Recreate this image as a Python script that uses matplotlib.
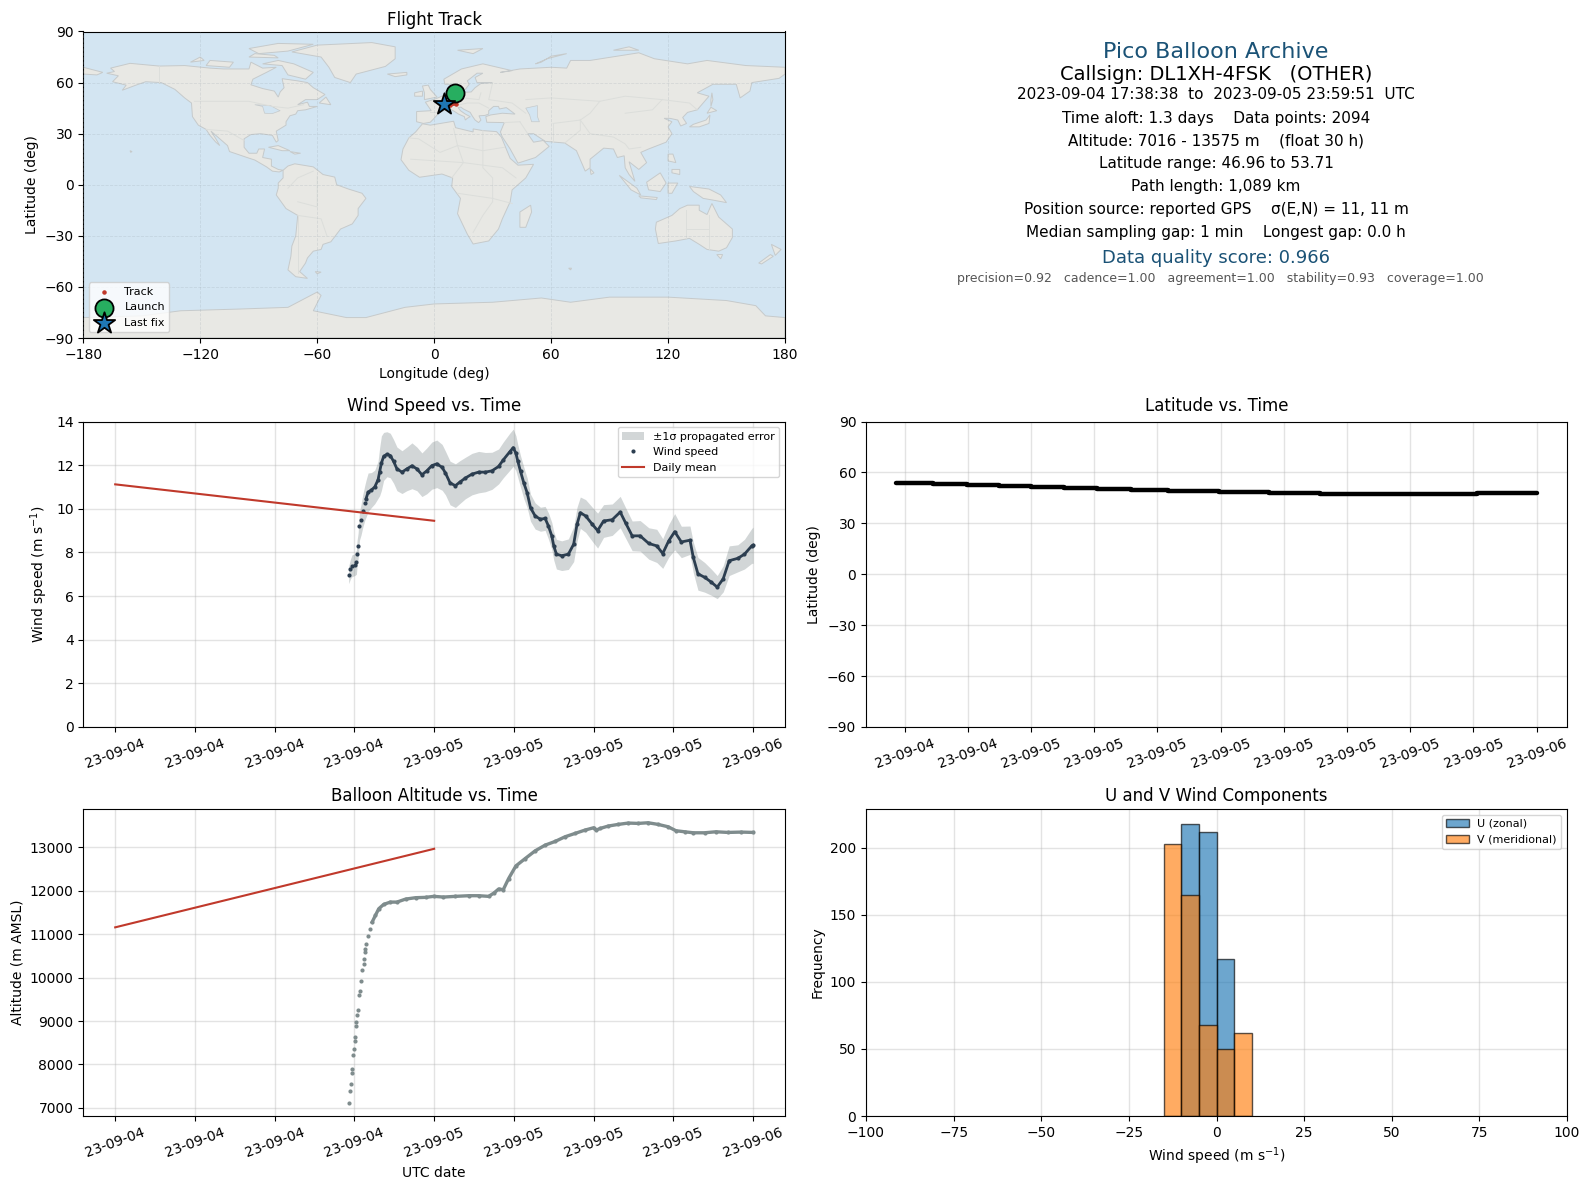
import pandas as pd
import matplotlib
matplotlib.use("Agg")
import matplotlib.pyplot as plt
import matplotlib.dates as mdates
from matplotlib.patches import Polygon

# data, hours counted from 2023-09-04 00:00 UTC
wind_hours = [17.57, 17.70, 17.82, 18.03, 18.15, 18.20, 18.28, 18.38, 18.50, 18.63, 18.78, 18.88, 19.03, 19.28, 19.53,
              19.78, 19.90, 20.03, 20.20, 20.45, 20.70, 20.95, 21.20, 21.58, 21.95, 22.33, 22.70, 23.08, 23.45, 23.83,
              24.20, 24.60, 24.85, 25.20, 25.60, 25.95, 26.35, 26.85, 27.35, 27.85, 28.35, 28.85, 29.20, 29.70, 29.95,
              30.15, 30.30, 30.50, 30.75, 31.00, 31.25, 31.60, 32.00, 32.35, 32.60, 32.85, 33.00, 33.20, 33.60, 34.10,
              34.50, 34.75, 35.00, 35.40, 35.90, 36.30, 36.75, 37.40, 38.00, 38.40, 38.90, 39.50, 40.15, 40.75, 41.20,
              41.65, 42.10, 42.60, 43.25, 43.50, 43.85, 44.35, 44.85, 45.30, 45.75, 46.20, 46.85, 47.35, 47.90, 48.00]
wind_speed = [6.97, 7.24, 7.39, 7.44, 7.55, 7.95, 8.29, 9.21, 9.50, 9.90, 10.27, 10.47, 10.76, 10.86, 11.00,
              11.33, 11.70, 12.09, 12.40, 12.50, 12.44, 12.17, 11.83, 11.68, 11.83, 11.97, 11.83, 11.56, 11.74, 11.98,
              12.06, 11.90, 11.64, 11.18, 11.06, 11.23, 11.41, 11.59, 11.68, 11.68, 11.74, 11.94, 12.24, 12.62, 12.80,
              12.55, 12.17, 11.71, 11.18, 10.73, 10.05, 9.67, 9.52, 9.56, 9.21, 8.76, 8.30, 7.92, 7.85, 7.92,
              8.38, 9.29, 9.82, 9.67, 9.29, 9.00, 9.44, 9.50, 9.85, 9.36, 8.76, 8.76, 8.41, 8.30, 7.95,
              8.53, 8.95, 8.48, 8.56, 7.77, 7.02, 6.86, 6.64, 6.41, 6.79, 7.62, 7.73, 7.92, 8.30, 8.33]
wind_sigma = [0.40, 0.45, 0.50, 0.50, 0.55, 0.60, 0.60, 0.65, 0.70, 0.75, 0.80, 0.85, 0.88, 0.80, 0.77,
              0.85, 1.10, 1.25, 1.10, 1.03, 1.02, 1.00, 1.00, 0.98, 1.00, 1.05, 1.00, 1.00, 1.05, 1.08,
              1.09, 1.05, 1.00, 1.00, 1.00, 0.98, 0.95, 0.95, 0.95, 0.90, 0.85, 0.80, 0.82, 0.85, 0.85,
              0.80, 0.75, 0.72, 0.72, 0.68, 0.62, 0.60, 0.55, 0.55, 0.60, 0.62, 0.65, 0.68, 0.68, 0.70,
              0.80, 0.78, 0.72, 0.75, 0.78, 0.80, 0.75, 0.72, 0.72, 0.70, 0.68, 0.70, 0.72, 0.76, 0.68,
              0.75, 0.83, 0.72, 0.65, 0.70, 0.75, 0.68, 0.60, 0.53, 0.60, 0.68, 0.62, 0.68, 0.80, 0.83]

alt_hours = [17.60, 17.67, 17.75, 17.82, 17.83, 17.90, 17.97, 18.05, 18.06, 18.12, 18.13, 18.20, 18.28, 18.35, 18.40,
             18.48, 18.58, 18.70, 18.75, 18.78, 18.83, 18.90, 19.03, 19.20, 19.33, 19.58, 19.83, 20.20, 20.70, 21.20,
             21.85, 22.60, 23.35, 23.97, 24.70, 25.60, 26.60, 27.35, 28.10, 28.50, 28.85, 29.20, 29.60, 30.15, 30.85,
             31.60, 32.35, 33.10, 33.85, 34.60, 35.35, 36.00, 36.20, 36.50, 37.10, 37.85, 38.60, 39.35, 40.10, 40.85,
             41.60, 42.20, 42.85, 43.50, 44.35, 45.20, 46.10, 47.10, 48.00]
altitude = [7123, 7378, 7540, 7794, 7887, 8210, 8349, 8542, 8642, 8881, 8974, 9136, 9252, 9598, 9691,
            9915, 10177, 10316, 10431, 10586, 10663, 10778, 10971, 11125, 11279, 11434, 11588, 11688, 11742, 11742,
            11811, 11843, 11851, 11874, 11858, 11874, 11889, 11889, 11874, 11951, 12043, 12028, 12282, 12575, 12745,
            12923, 13054, 13139, 13247, 13324, 13401, 13455, 13401, 13440, 13494, 13532, 13563, 13555, 13570, 13532,
            13478, 13386, 13362, 13339, 13339, 13362, 13347, 13355, 13347]

# latitude comes in visible steps
lat_hours = [17.61, 19.36, 20.96, 22.50, 23.98, 25.58, 27.12, 28.76, 30.50, 32.90, 35.29, 37.73, 45.15, 48.00]
latitude = [53.7, 53.1, 52.5, 51.9, 51.3, 50.7, 50.1, 49.6, 49.0, 48.4, 47.8, 47.1, 47.6, 47.6]

daily_hours = [0, 24]
daily_wind = [11.12, 9.45]
daily_alt = [11160, 12970]

track_lon = [10.5, 11.5, 11.0, 8.0, 5.3]
track_lat = [53.7, 50.0, 47.5, 47.0, 47.5]

hist_edges = [-15, -10, -5, 0, 5, 10]
u_counts = [0, 218, 212, 117, 0]
v_counts = [203, 165, 68, 50, 62]

info_lines = ["2023-09-04 17:38:38  to  2023-09-05 23:59:51  UTC",
              "Time aloft: 1.3 days    Data points: 2094",
              "Altitude: 7016 - 13575 m    (float 30 h)",
              "Latitude range: 46.96 to 53.71",
              "Path length: 1,089 km",
              "Position source: reported GPS    \u03c3(E,N) = 11, 11 m",
              "Median sampling gap: 1 min    Longest gap: 0.0 h"]

# rough coastlines
land = [
    [(-168, 65.5), (-164, 66.5), (-166, 68.5), (-156, 71.3), (-141, 69.7), (-128, 70), (-115, 68.5), (-108, 68), (-95, 68),
     (-94, 72), (-88, 68.5), (-81, 69), (-86, 66), (-93, 62), (-94, 58.7), (-88, 56.5), (-82, 55), (-80, 51.5), (-79, 54.5),
     (-77, 57), (-78, 62.3), (-70, 61), (-65, 60), (-62, 57), (-56, 53), (-60, 50), (-66, 50), (-70, 47), (-65, 48.5),
     (-64, 46), (-60, 46), (-66, 44), (-70, 43.5), (-71, 41.5), (-74, 40.5), (-76, 37), (-76, 35), (-81, 31.5), (-80, 26),
     (-81, 25), (-83, 29), (-89, 30), (-94, 29.5), (-97.5, 27), (-97.5, 22), (-95, 18.5), (-91, 18.5), (-90, 21), (-87, 21),
     (-88, 16), (-83.5, 15), (-83.5, 11), (-80, 9), (-77.5, 8.5), (-79.5, 7.5), (-83, 8), (-86, 10.5), (-92, 14.5), (-96, 16),
     (-105, 19.5), (-106, 23), (-112, 29), (-114.5, 31.5), (-112, 27), (-110, 23), (-112, 25), (-115, 29), (-117, 32.5),
     (-121, 35), (-124, 40), (-124.5, 48), (-128, 51), (-133, 56), (-140, 60), (-148, 60.5), (-153, 58.5), (-160, 55.5),
     (-158, 58.5), (-165, 60.5), (-162, 64)],
    [(-77.5, 8.5), (-75, 11), (-71.5, 12.3), (-62, 10.5), (-57, 6), (-51, 4.5), (-50, 0), (-44, -2.5), (-37, -5), (-35, -8),
     (-39, -14), (-39, -18), (-42, -23), (-48, -26), (-53, -33.5), (-57, -35), (-58, -38), (-62, -39), (-65, -43), (-66, -46),
     (-69, -51), (-65, -55), (-71, -54), (-75, -50), (-73.5, -42), (-73, -36), (-71, -30), (-70, -18), (-76, -14), (-81, -6),
     (-80, -2), (-80, 1), (-77.5, 4)],
    [(-6, 35.8), (-2, 35), (10, 37.3), (11, 33.5), (20, 31), (20, 32.8), (25, 31.8), (32, 31.2), (34.5, 28), (37, 21), (39, 15.5),
     (43, 11.5), (51, 12), (47, 4), (40, -3), (39, -10), (35, -20), (33, -26), (28, -33), (20, -34.8), (17, -29), (12, -17),
     (13.5, -8), (9, -1), (9.5, 4), (4, 6.3), (-7.5, 4.4), (-13, 8.5), (-17, 14.7), (-16, 21), (-13, 27.5), (-9.5, 31)],
    [(-5.5, 36), (-9, 37), (-9, 43), (-1.5, 43.5), (-4.5, 48.5), (1.5, 50.8), (8, 54), (8.5, 57), (11, 56), (11, 54), (19, 54.5),
     (21, 57), (24, 59.5), (30, 60), (22, 60), (21, 63), (25, 65.5), (22, 65.5), (17, 61), (18, 59), (16, 56), (13, 55.5), (11, 59),
     (5.5, 59), (5, 62), (14, 68), (25, 71), (40, 67), (34, 66), (44, 68), (60, 69), (68, 68.5), (70, 73), (80, 73), (105, 77.5),
     (113, 74), (130, 71), (140, 73), (160, 70), (180, 69), (180, 65), (177, 62.5), (163, 60), (162, 55), (157, 51), (155, 59),
     (143, 59), (135, 54), (141, 52), (135, 44), (130, 42.5), (127.5, 39.5), (129.5, 36), (126.5, 34.5), (125, 38), (121, 39),
     (118, 39), (122, 37), (120, 34), (122, 30), (119, 25), (110, 21), (106, 19), (109, 13), (105, 9), (100, 13.5), (103, 2),
     (100, 6), (98, 10), (97.5, 17), (94, 16), (92, 21), (87, 21.5), (80, 15), (80, 10), (77.5, 8), (73, 20), (67, 24.5), (57, 25.5),
     (51, 30), (48, 30), (51, 25), (56, 26), (59, 22.5), (52, 16), (43, 12.7), (39, 21), (35, 28), (34, 31), (36, 36.5), (27, 36.7),
     (26.5, 40), (29, 41), (35, 42), (41.5, 41.5), (38, 44.5), (37, 45.3), (33.5, 44.5), (33, 46), (30.5, 46), (28, 43.5), (28, 41.5),
     (26, 40.7), (23, 40.5), (24, 38), (22.8, 36.5), (21, 38), (19.5, 40.5), (18.5, 42.5), (15, 44.5), (13.7, 45.6), (12.3, 45.3),
     (13.5, 43.5), (16, 41.5), (18.5, 40), (17, 39), (16, 38), (15.5, 40), (12.5, 41.5), (10.5, 43), (8.5, 44.3), (3, 43), (0, 39),
     (-2, 36.7)],
    [(-180, 69), (-170, 66), (-173, 64.5), (-180, 65)],
    [(-73, 78), (-60, 82), (-32, 83.5), (-20, 81), (-20, 74), (-25, 69.5), (-40, 65), (-43, 60), (-51, 63), (-54, 69), (-58, 75)],
    [(-80, 73), (-72, 71), (-62, 66), (-66, 62), (-75, 64.5), (-78, 70), (-88, 71)],
    [(-117, 70), (-105, 69), (-103, 72), (-115, 73)],
    [(-90, 77), (-75, 78.5), (-62, 82.5), (-80, 83), (-95, 80)],
    [(-125, 72), (-118, 73), (-120, 75)],
    [(-95, 75), (-80, 74.5), (-82, 76), (-92, 77)],
    [(-24, 65), (-14, 66), (-14, 64.5), (-20, 63.5)],
    [(-5, 50), (1.5, 51.5), (-2, 56), (-3, 58.5), (-6, 58), (-5, 54)],
    [(-10, 52), (-6, 52), (-6, 55), (-10, 54)],
    [(12, 79), (25, 80), (20, 77)],
    [(52, 71), (58, 74), (68, 77), (60, 75.5), (55, 72)],
    [(92, 79), (100, 81), (105, 79)],
    [(44, -16), (49.5, -12), (50, -16), (47, -25), (44, -25)],
    [(131, 34), (136, 34), (141, 36), (141.5, 41), (139.5, 38), (133, 35.5)],
    [(140, 42), (145, 43.5), (142, 45.5)],
    [(142, 46), (143, 50), (142.5, 54), (142, 50)],
    [(120, 18), (122.5, 18), (124, 13), (120, 14)],
    [(122, 9), (126, 9), (126, 6), (122, 7)],
    [(95, 5.5), (104, -2), (106, -6), (101, -3)],
    [(105, -6.5), (114.5, -7.5), (114, -8.7), (106, -7.7)],
    [(109, 1.5), (116, 7), (119, 1), (116, -4), (110, -3)],
    [(120, 1), (125, 1), (122, -5), (120, -5)],
    [(131, -1), (141, -2.5), (147, -6), (150, -10.5), (143, -9), (138, -8), (133, -4)],
    [(114, -22), (122, -18), (126, -14), (130, -12), (136, -12), (136, -15), (140, -17.5), (142.5, -11), (146, -19), (153, -26),
     (153, -31), (150, -37), (146, -39), (140, -38), (136, -35), (131, -31.5), (124, -33), (115, -34.5), (113.5, -26)],
    [(145, -41), (148, -41), (147, -43.5)],
    [(173, -35), (178, -38), (175, -41.5)],
    [(172.5, -41), (174, -42), (168, -46.5), (166.5, -46)],
    [(-85, 22), (-80, 23), (-74, 20), (-78, 20)],
    [(-74, 19.5), (-68.5, 18.5), (-71.5, 18)],
    [(80, 9.5), (82, 7), (80.5, 6)],
    [(-59, 48), (-55.5, 51.5), (-53, 47)],
    [(-61, -51), (-58, -51.3), (-60, -52.3)],
    [(69, -49), (70.5, -49), (70, -50)],
    [(-156, 20), (-155, 19.5), (-155.7, 19)],
    [(-180, -90), (-180, -78), (-150, -77), (-130, -74), (-100, -73), (-75, -72), (-60, -63), (-58, -65), (-62, -74), (-45, -78),
     (-35, -78), (-15, -72), (0, -70), (30, -69), (55, -66.5), (70, -69), (90, -66), (120, -66), (150, -68), (165, -71), (170, -77),
     (180, -78), (180, -90)],
]
# seas and lakes painted back over the land
water = [
    [(47, 45), (53, 46.5), (53, 40), (54, 37), (50, 37), (49, 41)],
    [(-92, 47), (-84, 46.5), (-80, 44), (-79, 43.5), (-83, 41.8), (-87, 42), (-88, 46)],
]
borders = [
    [(-123, 49), (-95, 49), (-83, 46), (-75, 45), (-67, 47)],
    [(-141, 69.7), (-141, 60)],
    [(-117, 32.5), (-106, 31.5), (-97.5, 26)],
    [(-70, -18), (-58, -20), (-55, -30)],
    [(-70, -10), (-60, -13), (-60, 5)],
    [(-70, -18), (-70, -52)],
    [(-75, -2), (-70, 4), (-62, 8)],
    [(-13, 27.5), (-8, 27), (3, 19), (12, 23), (25, 20), (36, 22)],
    [(25, 31.8), (25, 10), (30, 4), (30, -10), (25, -18), (20, -28)],
    [(-12, 15), (15, 13), (35, 10), (42, 4)],
    [(12, -5), (30, -8), (40, -11)],
    [(9, 4), (15, 13), (12, 23), (10, 33)],
    [(30, 60), (28, 50), (40, 48), (47, 42)],
    [(47, 50), (60, 51), (85, 49), (98, 52), (117, 50), (131, 48), (135, 44)],
    [(85, 49), (80, 42), (75, 38), (80, 30), (92, 28), (98, 24), (100, 21), (106, 22)],
    [(98, 42), (112, 44), (117, 50)],
    [(44, 37), (48, 30)],
    [(44, 37), (36, 36.5)],
    [(61, 36), (61, 25)],
    [(61, 36), (75, 38)],
    [(67, 24.5), (75, 32), (75, 38)],
    [(5, 50), (7, 47.5), (13, 47), (17, 48), (23, 48), (28, 45)],
    [(14, 54), (15, 51), (23, 50), (24, 54)],
    [(-2, 43), (3, 43)],
    [(129, -15), (129, -31.5)],
    [(141, -26), (129, -26)],
    [(141, -17.5), (141, -38)],
]

W, H = 1590, 1189
TICK_DATE = "%y-%m-%d"
NAVY = "#2c3e50"
GREY = "#7f8c8d"
RED = "#c0392b"
TITLE_BLUE = "#1a5276"


def to_time(hours):
    return pd.Timestamp("2023-09-04") + pd.to_timedelta(hours, unit="h")


def add_axes(left, top, right, bottom):
    return fig.add_axes([left / W, 1 - bottom / H, (right - left) / W, (bottom - top) / H])


def style_time(ax, step, start, end):
    ax.set_xlim(to_time([start])[0], to_time([end])[0])
    ax.xaxis.set_major_locator(mdates.HourLocator(byhour=range(0, 24, step)))
    ax.xaxis.set_major_formatter(mdates.DateFormatter(TICK_DATE))
    ax.tick_params(axis="x", labelrotation=20)
    ax.grid(True, color="#b0b0b0", alpha=0.35, lw=1)
    ax.set_axisbelow(True)


fig = plt.figure(figsize=(W / 100, H / 100), dpi=100)

ax_map = add_axes(83.3, 31.5, 785, 338)
ax_info = add_axes(866, 31.5, 1567, 338)
ax_wind = add_axes(83.3, 421.5, 785, 727)
ax_lat = add_axes(866, 421.5, 1567, 727)
ax_alt = add_axes(83.3, 809, 785, 1116)
ax_hist = add_axes(866, 809, 1567, 1116)

# map
ax_map.set_facecolor("#d3e5f2")
for poly in land:
    ax_map.add_patch(Polygon(poly, closed=True, fc="#e8e8e4", ec="#c6cacb", lw=0.7, zorder=1))
for poly in water:
    ax_map.add_patch(Polygon(poly, closed=True, fc="#d3e5f2", ec="#c6cacb", lw=0.5, zorder=1.1))
for line in borders:
    ax_map.plot([p[0] for p in line], [p[1] for p in line], color="#dcdedb", lw=0.7, zorder=1.2)
ax_map.plot(track_lon, track_lat, "-", color=RED, lw=2.5, zorder=3)
ax_map.scatter(track_lon, track_lat, s=5, color=RED, label="Track", zorder=3)
ax_map.scatter(track_lon[0], track_lat[0], s=170, color="#27ae60", edgecolors="k", lw=1.3, label="Launch", zorder=4)
ax_map.scatter(track_lon[-1], track_lat[-1], s=260, marker="*", color="#1f77b4", edgecolors="k", lw=1.3, label="Last fix", zorder=5)
ax_map.set_xlim(-180, 180)
ax_map.set_ylim(-90, 90)
ax_map.set_xticks(range(-180, 181, 60))
ax_map.set_yticks(range(-90, 91, 30))
ax_map.grid(True, color="#9aa5ac", alpha=0.25, lw=0.6, ls="--", zorder=1.5)
ax_map.set_axisbelow(False)
ax_map.set_xlabel("Longitude (deg)")
ax_map.set_ylabel("Latitude (deg)")
ax_map.set_title("Flight Track", pad=5)
ax_map.legend(loc="lower left", fontsize=8)

# summary text
ax_info.axis("off")
cx = 1216 / W
fig.text(cx, 1 - 52 / H, "Pico Balloon Archive", ha="center", va="center", fontsize=16, color=TITLE_BLUE)
fig.text(cx, 1 - 75 / H, "Callsign: DL1XH-4FSK   (OTHER)", ha="center", va="center", fontsize=14)
for y_px, line in zip([94.5, 118, 141, 163.5, 187, 209, 232.5], info_lines):
    fig.text(cx, 1 - y_px / H, line, ha="center", va="center", fontsize=11)
fig.text(cx, 1 - 258 / H, "Data quality score: 0.966", ha="center", va="center", fontsize=13, color=TITLE_BLUE)
fig.text(cx + 4 / W, 1 - 278.5 / H, "precision=0.92   cadence=1.00   agreement=1.00   stability=0.93   coverage=1.00",
         ha="center", va="center", fontsize=9, color="#555555")

# wind speed
wind_t = to_time(wind_hours)
low = [v - s for v, s in zip(wind_speed, wind_sigma)]
high = [v + s for v, s in zip(wind_speed, wind_sigma)]
ax_wind.fill_between(wind_t, low, high, color=GREY, alpha=0.35, lw=0, label="\u00b11\u03c3 propagated error")
ax_wind.plot(wind_t[11:], wind_speed[11:], "-", color=NAVY, lw=2.0)
ax_wind.plot(wind_t, wind_speed, "o", color=NAVY, ms=3.0, mew=0, label="Wind speed")
ax_wind.plot(to_time(daily_hours), daily_wind, color=RED, lw=1.5, label="Daily mean")
ax_wind.set_ylim(0, 14)
ax_wind.set_ylabel("Wind speed (m s$^{-1}$)")
ax_wind.set_title("Wind Speed vs. Time", pad=7.5)
ax_wind.legend(loc="upper right", fontsize=8)
style_time(ax_wind, 6, -2.4, 50.4)

# latitude
ax_lat.plot(to_time(lat_hours), latitude, color="k", lw=3.2, drawstyle="steps-post", solid_capstyle="round")
ax_lat.set_ylim(-90, 90)
ax_lat.set_yticks(range(-90, 91, 30))
ax_lat.set_ylabel("Latitude (deg)")
ax_lat.set_title("Latitude vs. Time", pad=7.5)
style_time(ax_lat, 3, 16.17, 49.44)

# altitude
alt_t = to_time(alt_hours)
ax_alt.plot(alt_t[24:], altitude[24:], "-", color=GREY, lw=2.4)
ax_alt.plot(alt_t, altitude, "o", color=GREY, ms=3.0, mew=0)
ax_alt.plot(to_time(daily_hours), daily_alt, color=RED, lw=1.5)
ax_alt.set_ylim(6813, 13887)
ax_alt.set_xlabel("UTC date")
ax_alt.set_ylabel("Altitude (m AMSL)")
ax_alt.set_title("Balloon Altitude vs. Time", pad=5.7)
style_time(ax_alt, 6, -2.4, 50.4)

# U and V histogram
ax_hist.bar(hist_edges[:-1], u_counts, width=5, align="edge", color="C0", edgecolor="k", alpha=0.65, label="U (zonal)")
ax_hist.bar(hist_edges[:-1], v_counts, width=5, align="edge", color="C1", edgecolor="k", alpha=0.65, label="V (meridional)")
ax_hist.set_xlim(-100, 100)
ax_hist.set_ylim(0, 228.9)
ax_hist.set_xlabel("Wind speed (m s$^{-1}$)")
ax_hist.set_ylabel("Frequency")
ax_hist.set_title("U and V Wind Components", pad=5.7)
ax_hist.legend(loc="upper right", fontsize=8)
ax_hist.grid(True, color="#b0b0b0", alpha=0.35, lw=1)
ax_hist.set_axisbelow(True)

fig.savefig("out.png", dpi=100)
